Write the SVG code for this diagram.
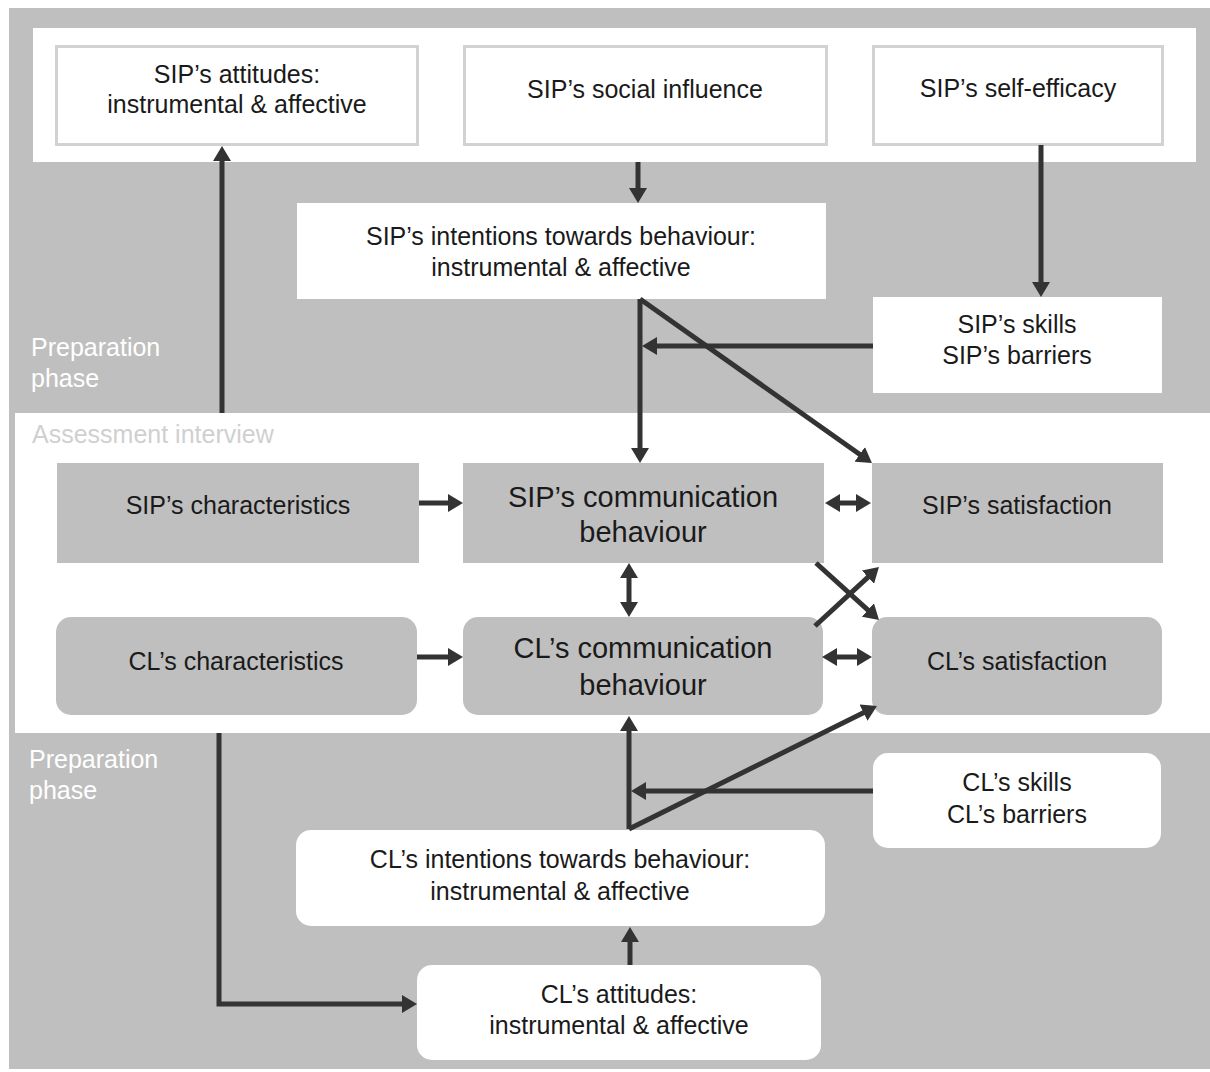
<svg xmlns="http://www.w3.org/2000/svg" width="1210" height="1072" viewBox="0 0 1210 1072">
<style>
text{font-family:"Liberation Sans",Arial,sans-serif;font-size:25px;fill:#1a1a1a;text-anchor:middle}
.big{font-size:29px}
.lbl{text-anchor:start;fill:#ffffff}
.lbl2{text-anchor:start;fill:#d0d0d0}
.wb{fill:#ffffff;stroke:#d2d2d2;stroke-width:3}
.w{fill:#ffffff}
.g{fill:#bfbfbf}
.c path{fill:none;stroke:#333333;stroke-width:5;marker-end:url(#ah)}
.c path.d{marker-start:url(#ah)}
</style>
<defs>
<marker id="ah" viewBox="0 0 15 18" markerUnits="userSpaceOnUse" markerWidth="15" markerHeight="18" refX="5" refY="9" orient="auto-start-reverse">
<path d="M0,0 L15,9 L0,18 z" fill="#333333"/>
</marker>
</defs>
<rect x="0" y="0" width="1210" height="1072" fill="#ffffff"/>
<rect x="9" y="8" width="1201" height="1061" fill="#bfbfbf"/>
<rect x="33" y="28" width="1163" height="134" fill="#ffffff"/>
<rect x="15" y="413" width="1195" height="320" fill="#ffffff"/>
<text class="lbl" x="31" y="356">Preparation</text>
<text class="lbl" x="31" y="387">phase</text>
<text class="lbl2" x="32" y="443">Assessment interview</text>
<text class="lbl" x="29" y="768">Preparation</text>
<text class="lbl" x="29" y="799">phase</text>

<g id="sip-attitudes"><rect class="wb" x="56.5" y="46.5" width="361" height="98"/><text x="237" y="83">SIP’s attitudes:</text><text x="237" y="113">instrumental &amp; affective</text></g>
<g id="sip-social"><rect class="wb" x="464.5" y="46.5" width="362" height="98"/><text x="645" y="98">SIP’s social influence</text></g>
<g id="sip-selfeff"><rect class="wb" x="873.5" y="46.5" width="289" height="98"/><text x="1018" y="97">SIP’s self-efficacy</text></g>
<g id="sip-intentions"><rect class="w" x="297" y="203" width="529" height="96"/><text x="561" y="245">SIP’s intentions towards behaviour:</text><text x="561" y="276">instrumental &amp; affective</text></g>
<g id="sip-skills"><rect class="w" x="873" y="297" width="289" height="96"/><text x="1017" y="333">SIP’s skills</text><text x="1017" y="364">SIP’s barriers</text></g>
<g id="sip-char"><rect class="g" x="57" y="463" width="362" height="100"/><text x="238" y="514">SIP’s characteristics</text></g>
<g id="sip-comm"><rect class="g" x="463" y="463" width="361" height="100"/><text class="big" x="643" y="507">SIP’s communication</text><text class="big" x="643" y="542">behaviour</text></g>
<g id="sip-sat"><rect class="g" x="872" y="463" width="291" height="100"/><text x="1017" y="514">SIP’s satisfaction</text></g>
<g id="cl-char"><rect class="g" x="56" y="617" width="361" height="98" rx="15"/><text x="236" y="670">CL’s characteristics</text></g>
<g id="cl-comm"><rect class="g" x="463" y="617" width="360" height="98" rx="15"/><text class="big" x="643" y="658">CL’s communication</text><text class="big" x="643" y="695">behaviour</text></g>
<g id="cl-sat"><rect class="g" x="872" y="617" width="290" height="98" rx="15"/><text x="1017" y="670">CL’s satisfaction</text></g>
<g id="cl-skills"><rect class="w" x="873" y="753" width="288" height="95" rx="15"/><text x="1017" y="791">CL’s skills</text><text x="1017" y="823">CL’s barriers</text></g>
<g id="cl-intentions"><rect class="w" x="296" y="830" width="529" height="96" rx="15"/><text x="560" y="868">CL’s intentions towards behaviour:</text><text x="560" y="900">instrumental &amp; affective</text></g>
<g id="cl-attitudes"><rect class="w" x="417" y="965" width="404" height="95" rx="15"/><text x="619" y="1003">CL’s attitudes:</text><text x="619" y="1034">instrumental &amp; affective</text></g>

<g id="connectors" class="c">
<path d="M222,413 V156"/>
<path d="M638,162 V193"/>
<path d="M1041,145 V287"/>
<path d="M640,299 V453"/>
<path d="M640,299 L863.8,457.2"/>
<path d="M873,346 H652"/>
<path d="M419,503 H453"/>
<path class="d" d="M835,503 H861"/>
<path class="d" d="M629,573 V607"/>
<path d="M417,657 H453"/>
<path class="d" d="M832,657 H862"/>
<path d="M816,563 L871.6,613.3"/>
<path d="M815,626 L871.6,573.8"/>
<path d="M629,829 V726"/>
<path d="M629,829 L868,710.4"/>
<path d="M873,791 H641"/>
<path d="M630,965 V937"/>
<path d="M219,733 V1004 H407"/>
</g>
</svg>
